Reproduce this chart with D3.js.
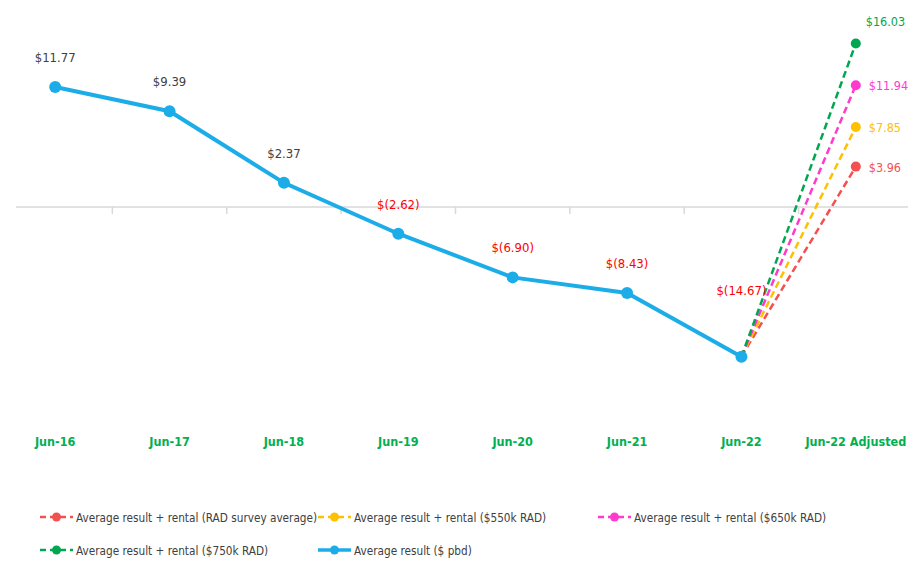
<!DOCTYPE html>
<html>
<head>
<meta charset="utf-8">
<script src="https://cdn.jsdelivr.net/npm/d3@7"></script>
<style>
  body { margin: 0; background: #fff; }
  svg { font-family: "DejaVu Sans Condensed", "DejaVu Sans", sans-serif; font-stretch: condensed; }
</style>
</head>
<body>
<script>
const categories = ['Jun-16', 'Jun-17', 'Jun-18', 'Jun-19', 'Jun-20', 'Jun-21', 'Jun-22', 'Jun-22 Adjusted'];
const averageResult = [11.77, 9.39, 2.37, -2.62, -6.90, -8.43, -14.67];
const adjustedNames = [
  'Average result + rental (RAD survey average)',
  'Average result + rental ($550k RAD)',
  'Average result + rental ($650k RAD)',
  'Average result + rental ($750k RAD)'
];
const adjustedValues = [3.96, 7.85, 11.94, 16.03];
const adjustedColors = ['#F4504F', '#FFC000', '#FF3ACF', '#00A651'];
const blue = '#1CADE8';

const svg = d3.select(document.body).append('svg')
  .attr('width', 908).attr('height', 562);

const x = d3.scaleBand().domain(categories).range([-2, 913]);
const y = d3.scaleLinear().domain([-20, 20]).range([411, 3]);
const cx = d => x(d) + x.bandwidth() / 2;

const money = v => v < 0 ? '$(' + Math.abs(v).toFixed(2) + ')' : '$' + v.toFixed(2);

// zero axis line + tick marks
svg.append('line')
  .attr('x1', 16).attr('x2', 908)
  .attr('y1', y(0)).attr('y2', y(0))
  .attr('stroke', '#d9d9d9').attr('stroke-width', 1.5);
svg.selectAll('.tick')
  .data(categories.slice(1))
  .enter().append('line')
  .attr('x1', d => x(d)).attr('x2', d => x(d))
  .attr('y1', y(0)).attr('y2', y(0) + 7)
  .attr('stroke', '#d9d9d9').attr('stroke-width', 1.5);

// category labels
svg.selectAll('.cat')
  .data(categories)
  .enter().append('text')
  .attr('x', d => cx(d)).attr('y', 446)
  .attr('text-anchor', 'middle')
  .attr('font-size', 12.5).attr('font-weight', 'bold')
  .attr('fill', '#00B050')
  .text(d => d);

// dashed adjusted lines
const last = categories.length - 2;
adjustedValues.forEach((v, i) => {
  svg.append('line')
    .attr('x1', cx(categories[last])).attr('y1', y(averageResult[last]))
    .attr('x2', cx(categories[last + 1])).attr('y2', y(v))
    .attr('stroke', adjustedColors[i]).attr('stroke-width', 2.5)
    .attr('stroke-dasharray', '7,4');
  svg.append('circle')
    .attr('cx', cx(categories[last + 1])).attr('cy', y(v))
    .attr('r', 5).attr('fill', adjustedColors[i]);
  const top = i === adjustedValues.length - 1;
  svg.append('text')
    .attr('x', cx(categories[last + 1]) + (top ? 10 : 13))
    .attr('y', y(v) + (top ? -17 : 5))
    .attr('font-size', 12.5)
    .attr('fill', adjustedColors[i])
    .text(money(v));
});

// main line
const line = d3.line()
  .x((d, i) => cx(categories[i]))
  .y(d => y(d));
svg.append('path')
  .datum(averageResult)
  .attr('d', line)
  .attr('fill', 'none')
  .attr('stroke', blue).attr('stroke-width', 4);
svg.selectAll('.pt')
  .data(averageResult)
  .enter().append('circle')
  .attr('cx', (d, i) => cx(categories[i])).attr('cy', d => y(d))
  .attr('r', 6).attr('fill', blue);
svg.selectAll('.lbl')
  .data(averageResult)
  .enter().append('text')
  .attr('x', (d, i) => cx(categories[i]))
  .attr('y', (d, i) => y(d) - (i === last ? 62 : 25))
  .attr('text-anchor', 'middle')
  .attr('font-size', 13)
  .attr('fill', d => d < 0 ? '#FF0000' : '#404040')
  .text(money);

// legend
const legend = [
  {name: adjustedNames[0], color: adjustedColors[0], dash: true, x: 40, y: 517},
  {name: adjustedNames[1], color: adjustedColors[1], dash: true, x: 318, y: 517},
  {name: adjustedNames[2], color: adjustedColors[2], dash: true, x: 598, y: 517},
  {name: adjustedNames[3], color: adjustedColors[3], dash: true, x: 40, y: 550},
  {name: 'Average result ($ pbd)', color: blue, dash: false, x: 318, y: 550}
];
const lg = svg.selectAll('.lg')
  .data(legend)
  .enter().append('g')
  .attr('transform', d => `translate(${d.x},${d.y})`);
lg.append('line')
  .attr('x1', 0).attr('x2', 33)
  .attr('stroke', d => d.color)
  .attr('stroke-width', d => d.dash ? 2.5 : 3.5)
  .attr('stroke-dasharray', d => d.dash ? '6,4' : null);
lg.append('circle')
  .attr('cx', 16.5).attr('r', 4.5)
  .attr('fill', d => d.color);
lg.append('text')
  .attr('x', 36).attr('y', 5)
  .attr('font-size', 11.7)
  .attr('fill', '#404040')
  .text(d => d.name);
</script>
</body>
</html>
